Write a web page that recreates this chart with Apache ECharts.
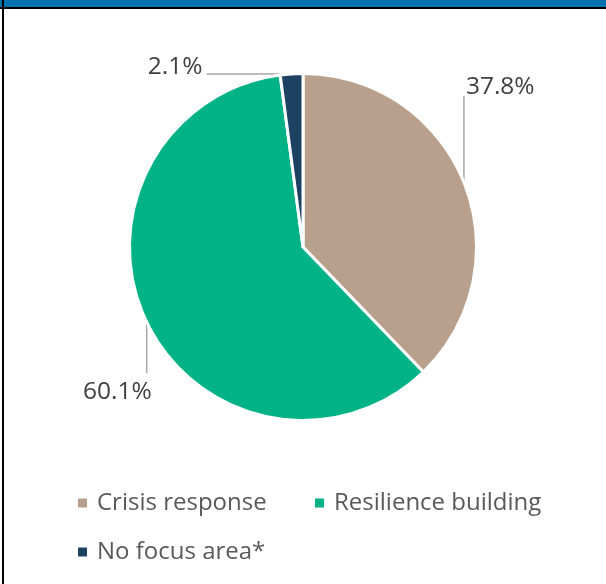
<!DOCTYPE html>
<html>
<head>
<meta charset="utf-8">
<script src="https://cdn.jsdelivr.net/npm/echarts@6/dist/echarts.min.js"></script>
<style>
  html, body { margin: 0; padding: 0; background: #ffffff; }
  #chart { width: 606px; height: 584px; }
</style>
</head>
<body>
<div id="chart"></div>
<script>
// Share of funding by focus area
const categories = ['Crisis response', 'Resilience building', 'No focus area*'];
const shares = [37.8, 60.1, 2.1];
const colors = ['#B9A08D', '#00B386', '#1C4162'];

const chart = echarts.init(document.getElementById('chart'), null, { renderer: 'canvas' });

// Leader line shapes per slice: end of leader relative to the slice edge,
// plus label anchor offset and alignment
const leaders = [
  { line: [0, -86], label: [2, -95], align: 'left' },
  { line: [0, 51], label: [5, 70], align: 'right' },
  { line: [-85, 0], label: [-89, -7], align: 'right' }
];

const FONT = '"Open Sans", "Noto Sans", sans-serif';

chart.setOption({
  animation: false,
  graphic: [
    { type: 'rect', shape: { x: 0, y: 0, width: 606, height: 7 }, style: { fill: '#0072AE' }, z: 10 },
    { type: 'rect', shape: { x: 0, y: 7, width: 606, height: 2 }, style: { fill: '#000000' }, z: 10 },
    { type: 'rect', shape: { x: 2, y: 0, width: 2, height: 584 }, style: { fill: '#000000' }, z: 11 }
  ],
  legend: {
    data: categories,
    left: 78,
    top: 491,
    width: 470,
    padding: 0,
    orient: 'horizontal',
    itemGap: 25,
    itemWidth: 9,
    itemHeight: 9,
    icon: 'rect',
    itemStyle: { borderWidth: 0 },
    selectedMode: false,
    textStyle: {
      fontFamily: FONT,
      fontSize: 24,
      color: '#595959',
      width: 193,
      lineHeight: 21,
      padding: [0, 0, 0, 5]
    }
  },
  series: [{
    type: 'pie',
    center: [303, 247],
    radius: 173.5,
    startAngle: 90,
    clockwise: true,
    avoidLabelOverlap: false,
    itemStyle: { borderColor: '#ffffff', borderWidth: 3 },
    label: {
      show: true,
      position: 'outside',
      formatter: p => p.value.toFixed(1) + '%',
      fontFamily: FONT,
      fontSize: 24.5,
      color: '#404040'
    },
    labelLine: {
      show: true,
      length: 20,
      length2: 20,
      lineStyle: { color: '#A6A6A6', width: 1.5 }
    },
    labelLayout: params => {
      const cfg = leaders[params.dataIndex];
      const p0 = params.labelLinePoints[0];
      return {
        x: p0[0] + cfg.label[0],
        y: p0[1] + cfg.label[1],
        align: cfg.align,
        verticalAlign: 'middle',
        labelLinePoints: [
          [p0[0], p0[1]],
          [p0[0] + cfg.line[0], p0[1] + cfg.line[1]]
        ]
      };
    },
    emphasis: { disabled: true },
    data: categories.map((name, i) => ({
      name,
      value: shares[i],
      itemStyle: { color: colors[i] }
    }))
  }]
});
</script>
</body>
</html>
